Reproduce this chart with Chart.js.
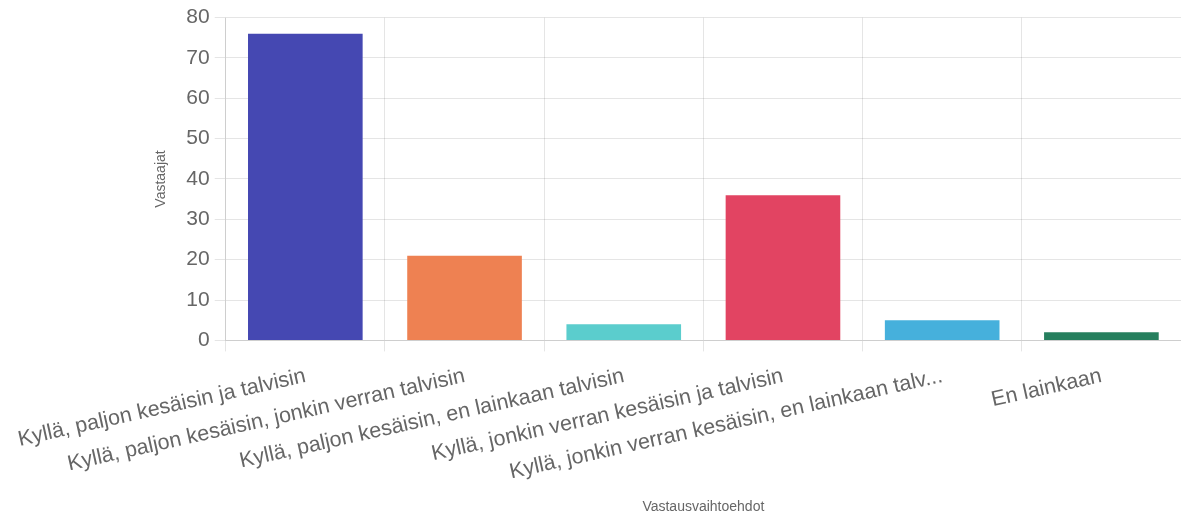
<!DOCTYPE html>
<html lang="fi">
<head>
  <meta charset="UTF-8">
  <title>Vastaukset</title>
  <script src="https://cdn.jsdelivr.net/npm/chart.js"></script>
  <style>
    html, body { margin: 0; padding: 0; background: #fff; }
    #wrap { width: 1181px; height: 516px; }
  </style>
</head>
<body>
  <div id="wrap"><canvas id="vastausChart"></canvas></div>
  <script>
    const vaihtoehdot = [
      'Kyllä, paljon kesäisin ja talvisin',
      'Kyllä, paljon kesäisin, jonkin verran talvisin',
      'Kyllä, paljon kesäisin, en lainkaan talvisin',
      'Kyllä, jonkin verran kesäisin ja talvisin',
      'Kyllä, jonkin verran kesäisin, en lainkaan talvisin',
      'En lainkaan'
    ];
    const vastaajat = [76, 21, 4, 36, 5, 2];
    const varit = ['#4548b2', '#ee8152', '#5bcdcd', '#e24462', '#46b0dc', '#267f5e'];

    Chart.defaults.font.family = '"Liberation Sans", Arial, sans-serif';
    Chart.defaults.color = '#666';

    new Chart(document.getElementById('vastausChart'), {
      type: 'bar',
      data: {
        labels: vaihtoehdot,
        datasets: [{
          label: 'Vastaajat',
          data: vastaajat,
          backgroundColor: varit
        }]
      },
      options: {
        responsive: true,
        maintainAspectRatio: false,
        animation: false,
        layout: { padding: { top: 2 } },
        plugins: { legend: { display: false }, tooltip: { enabled: false } },
        scales: {
          x: {
            grid: { tickLength: 11 },
            title: { display: true, text: 'Vastausvaihtoehdot', font: { size: 14 }, padding: { top: 2, bottom: 0 } },
            ticks: {
              font: { size: 21.5 },
              padding: 12,
              minRotation: 12.6,
              maxRotation: 12.6,
              // pitkät vaihtoehdot lyhennetään
              callback: function (value) {
                const t = this.getLabelForValue(value);
                return t.length > 47 ? t.substring(0, 47) + '...' : t;
              }
            }
          },
          y: {
            min: 0,
            max: 80,
            grid: { tickLength: 11 },
            title: { display: true, text: 'Vastaajat', font: { size: 14 }, padding: { top: 4, bottom: 12 } },
            ticks: { stepSize: 10, padding: 5, font: { size: 21 } }
          }
        }
      }
    });
  </script>
</body>
</html>
